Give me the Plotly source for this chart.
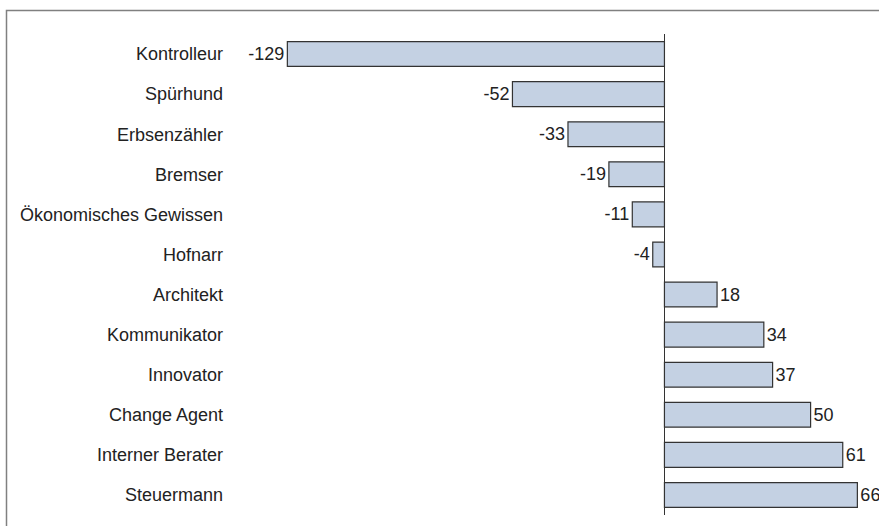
import plotly.graph_objects as go

categories = ["Kontrolleur", "Spürhund", "Erbsenzähler", "Bremser", "Ökonomisches Gewissen",
              "Hofnarr", "Architekt", "Kommunikator", "Innovator", "Change Agent",
              "Interner Berater", "Steuermann"]
values = [-129, -52, -33, -19, -11, -4, 18, 34, 37, 50, 61, 66]
value_labels = [str(v) for v in values]

W, H = 879, 526
L, R, T, B = 240, 0, 34, 11
pw, ph = W - L - R, H - T - B

fig = go.Figure(go.Bar(
    y=categories, x=values, orientation="h",
    text=value_labels, textposition="outside", constraintext="none", cliponaxis=False,
    textfont=dict(family="Liberation Sans, Arial", size=18, color="#222222"),
    marker=dict(color="#c4d1e3", line=dict(color="#333333", width=1.2)),
    width=0.62,
))

fig.update_layout(
    width=W, height=H,
    margin=dict(l=L, r=R, t=T, b=B, pad=0),
    plot_bgcolor="white", paper_bgcolor="white",
    showlegend=False,
    font=dict(family="Liberation Sans, Arial", size=18, color="#222222"),
    xaxis=dict(range=[-145.2, 73.4], showgrid=False, showticklabels=False, ticks="",
               zeroline=True, zerolinecolor="#333333", zerolinewidth=1.2, showline=False),
    yaxis=dict(autorange=False, range=[11.5, -0.5], showgrid=False, ticks="", showline=False,
               zeroline=False, ticklabelstandoff=16,
               tickfont=dict(family="Liberation Sans, Arial", size=18, color="#222222")),
)

x0 = (6.5 - L) / pw
ytop = 1 + (T - 10.5) / ph
fig.add_shape(type="path", xref="paper", yref="paper",
              path=f"M {x0} -0.2 L {x0} {ytop} L 1.02 {ytop}",
              line=dict(color="#808080", width=1.5))

fig.write_html("out.html", config={"displayModeBar": False},
               post_script="document.body.style.margin='0';document.body.style.overflow='hidden';")
